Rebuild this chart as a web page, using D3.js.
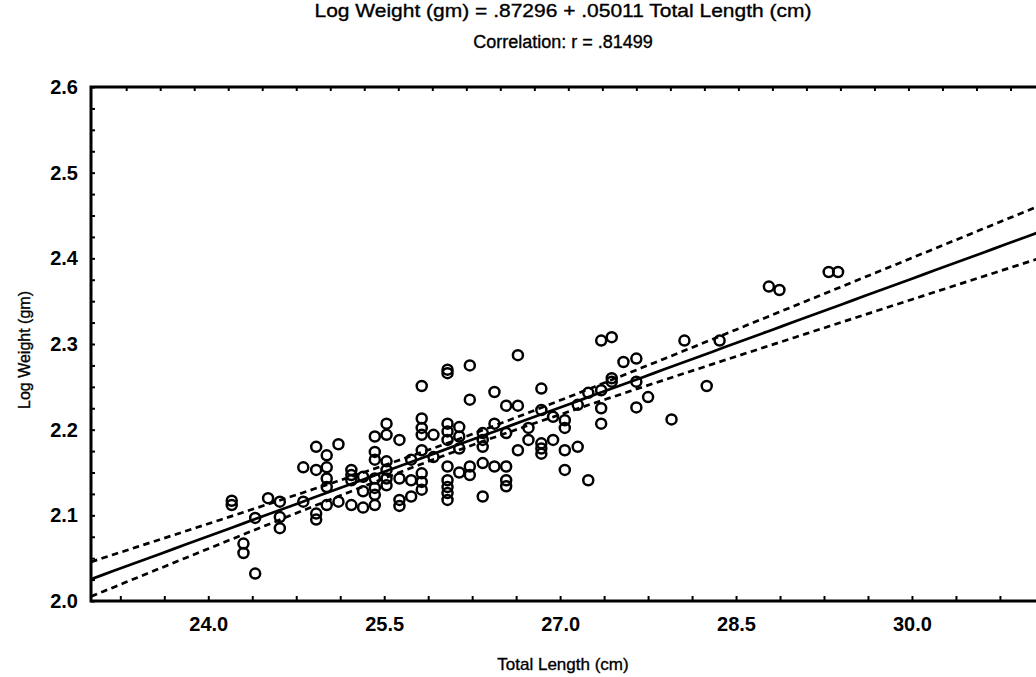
<!DOCTYPE html>
<html>
<head>
<meta charset="utf-8">
<script src="https://cdn.jsdelivr.net/npm/d3@7"></script>
<style>
  body { margin: 0; background: #fff; }
  text { font-family: "Liberation Sans", Arial, sans-serif; fill: #000; }
  .label { stroke: #000; stroke-width: 0.35px; }
</style>
</head>
<body>
<svg id="chart" width="1036" height="677"></svg>
<script>
// fitted model printed in the title
const intercept = 0.87296;
const slope = 0.05011;
const correlation = 0.81499;

const lengthCm = [
    24.20, 24.20,
    24.30, 24.30,
    24.40, 24.40,
    24.51,
    24.61, 24.61, 24.61,
    24.81, 24.81,
    24.92, 24.92, 24.92, 24.92,
    25.01, 25.01, 25.01, 25.01, 25.01,
    25.11, 25.11,
    25.22, 25.22, 25.22, 25.22,
    25.32, 25.32, 25.32,
    25.42, 25.42, 25.42, 25.42, 25.42, 25.42, 25.42,
    25.52, 25.52, 25.52, 25.52, 25.52, 25.52,
    25.63, 25.63, 25.63, 25.63,
    25.73, 25.73, 25.73,
    25.82, 25.82, 25.82, 25.82, 25.82, 25.82, 25.82, 25.82,
    25.92, 25.92,
    26.04, 26.04, 26.04, 26.04, 26.04, 26.04, 26.04, 26.04, 26.04, 26.04,
    26.14, 26.14, 26.14, 26.14,
    26.23, 26.23, 26.23, 26.23,
    26.34, 26.34, 26.34, 26.34, 26.34,
    26.44, 26.44, 26.44,
    26.54, 26.54, 26.54, 26.54, 26.54,
    26.64, 26.64, 26.64,
    26.73, 26.73,
    26.84, 26.84, 26.84, 26.84, 26.84,
    26.94, 26.94,
    27.04, 27.04, 27.04, 27.04,
    27.15, 27.15,
    27.24, 27.24,
    27.35, 27.35, 27.35, 27.35,
    27.44, 27.44, 27.44,
    27.54,
    27.65, 27.65, 27.65,
    27.75,
    27.95,
    28.06,
    28.25,
    28.36,
    28.78,
    28.87,
    29.29,
    29.37
];
const logWeight = [
    2.117, 2.112,
    2.067, 2.056,
    2.032, 2.097,
    2.120,
    2.116, 2.098, 2.085,
    2.116, 2.156,
    2.153, 2.180, 2.102, 2.095,
    2.170, 2.156, 2.143, 2.133, 2.112,
    2.183, 2.116,
    2.153, 2.147, 2.141, 2.112,
    2.145, 2.128, 2.109,
    2.192, 2.174, 2.165, 2.143, 2.132, 2.124, 2.112,
    2.207, 2.194, 2.163, 2.153, 2.143, 2.135,
    2.188, 2.143, 2.118, 2.111,
    2.165, 2.141, 2.122,
    2.251, 2.213, 2.202, 2.194, 2.176, 2.149, 2.139, 2.130,
    2.194, 2.168,
    2.270, 2.266, 2.207, 2.198, 2.188, 2.157, 2.141, 2.133, 2.126, 2.118,
    2.203, 2.192, 2.178, 2.150,
    2.275, 2.235, 2.157, 2.147,
    2.196, 2.188, 2.180, 2.161, 2.122,
    2.244, 2.207, 2.157,
    2.228, 2.196, 2.157, 2.141, 2.134,
    2.287, 2.228, 2.176,
    2.202, 2.188,
    2.248, 2.223, 2.184, 2.178, 2.172,
    2.215, 2.188,
    2.211, 2.202, 2.176, 2.153,
    2.229, 2.180,
    2.243, 2.141,
    2.304, 2.246, 2.225, 2.207,
    2.308, 2.260, 2.256,
    2.279,
    2.283, 2.256, 2.226,
    2.238,
    2.212,
    2.304,
    2.251,
    2.304,
    2.367,
    2.363,
    2.384,
    2.384
];

const xTickLabels = [24.0, 25.5, 27.0, 28.5, 30.0];
const yTickLabels = [2.0, 2.1, 2.2, 2.3, 2.4, 2.5, 2.6];

// layout
const plotLeft = 91, plotTop = 87, plotBottom = 601;
const pxPerCm = 117.28;
const xMin = 23, xMax = 31.5;
const centerX = 563;

const svg = d3.select("#chart");

const x = d3.scaleLinear().domain([xMin, xMax]).range([plotLeft, plotLeft + (xMax - xMin) * pxPerCm]);
const y = d3.scaleLinear().domain([2.0, 2.6]).range([plotBottom, plotTop]);
const plotRight = x(xMax);

svg.append("defs").append("clipPath").attr("id", "plot")
    .append("rect")
    .attr("x", plotLeft).attr("y", plotTop)
    .attr("width", plotRight - plotLeft).attr("height", plotBottom - plotTop);

// 95% confidence band for the mean, from the residuals around the printed fit
const n = lengthCm.length;
const xMean = d3.mean(lengthCm);
const sxx = d3.sum(lengthCm, v => (v - xMean) ** 2);
const sse = d3.sum(lengthCm, (v, i) => (logWeight[i] - (intercept + slope * v)) ** 2);
const se = Math.sqrt(sse / (n - 2));
const tCrit = 1.976;
const halfWidth = v => tCrit * se * Math.sqrt(1 / n + (v - xMean) ** 2 / sxx);

const fitXs = d3.range(xMin, xMax + 0.01, 0.1);
const fitted = v => intercept + slope * v;
const lineGen = f => d3.line().x(v => x(v)).y(v => y(f(v)))(fitXs);

const plot = svg.append("g").attr("clip-path", "url(#plot)");

plot.append("path")
    .attr("d", lineGen(fitted))
    .attr("fill", "none").attr("stroke", "#000").attr("stroke-width", 2.7);

[1, -1].forEach(sign => {
    plot.append("path")
        .attr("d", lineGen(v => fitted(v) + sign * halfWidth(v)))
        .attr("fill", "none").attr("stroke", "#000").attr("stroke-width", 2.7)
        .attr("stroke-dasharray", "6.5,4.5");
});

plot.selectAll("circle.pt")
    .data(lengthCm)
    .join("circle")
    .attr("class", "pt")
    .attr("cx", d => x(d))
    .attr("cy", (d, i) => y(logWeight[i]))
    .attr("r", 5)
    .attr("fill", "none")
    .attr("stroke", "#000")
    .attr("stroke-width", 2.5);

// minor ticks, pointing inward
const tickStyle = g => {
    g.select(".domain").remove();
    g.selectAll(".tick line").attr("stroke", "#000").attr("stroke-width", 2);
};

svg.append("g")
    .attr("transform", `translate(0,${plotBottom})`)
    .call(d3.axisBottom(x).tickValues(d3.range(23.25, xMax, 0.375)).tickSize(-5).tickFormat(""))
    .call(tickStyle);

svg.append("g")
    .attr("transform", `translate(0,${plotTop})`)
    .call(d3.axisTop(x).tickValues(d3.range(23.3, xMax, 0.29)).tickSize(-4).tickFormat(""))
    .call(tickStyle);

svg.append("g")
    .attr("transform", `translate(${plotLeft},0)`)
    .call(d3.axisLeft(y).tickValues(d3.range(2.0, 2.601, 0.025)).tickSize(-4).tickFormat(""))
    .call(tickStyle);

// tick labels
const xLabels = svg.append("g")
    .attr("transform", `translate(0,${plotBottom})`)
    .call(d3.axisBottom(x).tickValues(xTickLabels).tickSize(0).tickPadding(16).tickFormat(d3.format(".1f")));
xLabels.select(".domain").remove();
xLabels.selectAll("text")
    .style("font-family", "'Liberation Sans', Arial, sans-serif")
    .style("font-size", "20px").style("font-weight", "bold");

const yLabels = svg.append("g")
    .attr("transform", `translate(${plotLeft},0)`)
    .call(d3.axisLeft(y).tickValues(yTickLabels).tickSize(0).tickPadding(13).tickFormat(d3.format(".1f")));
yLabels.select(".domain").remove();
yLabels.selectAll("text")
    .style("font-family", "'Liberation Sans', Arial, sans-serif")
    .style("font-size", "20px").style("font-weight", "bold");

// frame
svg.append("rect")
    .attr("x", plotLeft).attr("y", plotTop)
    .attr("width", plotRight - plotLeft).attr("height", plotBottom - plotTop)
    .attr("fill", "none").attr("stroke", "#000").attr("stroke-width", 3);

// titles
svg.append("text")
    .attr("class", "label")
    .attr("x", centerX).attr("y", 17)
    .attr("text-anchor", "middle")
    .style("font-size", "19px")
    .attr("textLength", 497).attr("lengthAdjust", "spacingAndGlyphs")
    .text(`Log Weight (gm) = ${d3.format(".5f")(intercept).slice(1)} + ${d3.format(".5f")(slope).slice(1)} Total Length (cm)`);

svg.append("text")
    .attr("class", "label")
    .attr("x", centerX).attr("y", 48)
    .attr("text-anchor", "middle")
    .style("font-size", "18px")
    .text(`Correlation: r = ${d3.format(".5f")(correlation).slice(1)}`);

svg.append("text")
    .attr("class", "label")
    .attr("x", centerX).attr("y", 670)
    .attr("text-anchor", "middle")
    .style("font-size", "17px")
    .text("Total Length (cm)");

svg.append("text")
    .attr("class", "label")
    .attr("transform", "translate(30,350) rotate(-90)")
    .attr("text-anchor", "middle")
    .style("font-size", "16px")
    .text("Log Weight (gm)");
</script>
</body>
</html>
